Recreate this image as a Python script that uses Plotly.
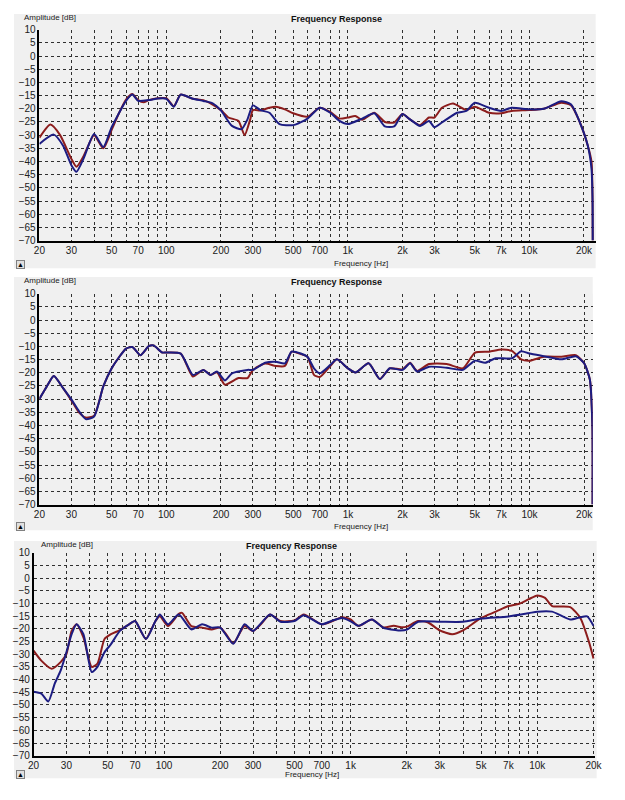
import plotly.graph_objects as go
import numpy as np

# ---- Panel 1 ----
p1_red_f = [20, 23, 26, 30, 32, 35, 40, 45, 50, 55, 60, 65, 70, 75, 80, 90, 100, 110, 120, 140, 160, 180, 200, 220, 250, 270, 290, 300, 330, 370, 400, 450, 500, 600, 700,
            800, 900, 1000, 1100, 1200, 1400, 1600, 1800, 2000, 2200, 2500, 2800, 3000, 3300, 3800, 4500, 5000, 6000, 7000, 8000, 10000, 12000, 15000, 17000, 19000, 21000, 22000, 22300, 22350]
p1_red_v = [-31, -26, -30, -39, -42, -38, -30, -35, -28, -21.5, -16.5, -14.4, -16.7, -17.5, -16.7, -16, -16, -19, -14.6, -16.2, -16.7, -18.4, -20.5, -23.3, -24.6, -30, -24, -20.5, -20.6, -19.6, -19.2, -20.2, -21.7, -23, -19.6,
            -21.2, -23.7, -23.3, -22.7, -24.2, -21.5, -25, -25.2, -22, -24, -26.2, -23.3, -23.3, -19.6, -18, -20.5, -19.2, -21.5, -21.7, -20.8, -20.5, -20, -17.7, -18.7, -25.2, -34, -40, -55, -70]
p1_blue_f = [20, 24, 27, 30, 32, 35, 40, 45, 50, 60, 65, 70, 80, 90, 100, 110, 120, 140, 160, 180, 200, 230, 260, 280, 300, 330, 370, 420, 500, 600, 700,
             800, 900, 1000, 1200, 1400, 1600, 1800, 2000, 2200, 2500, 2800, 3000, 3300, 4000, 4500, 5000, 6000, 7000, 8000, 10000, 12000, 15000, 17000, 19000, 21000, 22000, 22300, 22350]
p1_blue_v = [-33.3, -29.8, -34, -41.4, -43.9, -38.9, -29.6, -34.5, -27, -17, -14.6, -17, -16.7, -16.1, -16.2, -19.2, -14.6, -16.2, -17, -17.9, -20.6, -26.5, -27.7, -24, -18.7, -20.5, -21.5, -25.8, -26.2, -23.7, -19.6,
             -21.5, -24.6, -25.8, -23.7, -21.7, -26.7, -26.7, -22, -24, -26.5, -24.6, -27, -25.2, -21.5, -20.8, -17.7, -19.6, -20.8, -19.6, -20.2, -20, -17.1, -18.4, -25.2, -34, -42.6, -55, -70]

# ---- Panel 2 ----
p2_blue_f = [20, 22, 24, 27, 30, 33, 36, 40, 45, 50, 55, 60, 65, 72, 80, 85, 95, 100, 120, 140, 160, 175, 190, 210, 230, 280, 300, 350, 400, 450, 490, 550, 600, 650, 700,
             800, 870, 1000, 1100, 1300, 1500, 1700, 2000, 2200, 2400, 2800, 3500, 4300, 5000, 5700, 6500, 8000, 9000, 10000, 12000, 15000, 18000, 20000, 21500, 22200, 22250]
p2_blue_v = [-29.9, -25.1, -21.2, -25.8, -30.1, -34.5, -37.6, -36.6, -25.1, -18.3, -14, -10.8, -10.2, -13.3, -9.9, -9.6, -12.3, -12.3, -12.7, -20.8, -18.9, -20.8, -19.5, -22.9, -20.2, -18.9, -18.9, -16.2, -15.8, -16.4, -12, -12.7, -14, -18.3, -20.2,
             -17, -14.9, -18.3, -19.9, -16.4, -22.4, -18.3, -18.9, -16.4, -19.5, -17.7, -18.1, -18.9, -15.4, -16.2, -14.5, -14.5, -11.8, -12.7, -13.7, -14.9, -13.7, -16.4, -22.6, -40, -70]
p2_red_f = [20, 22, 24, 27, 30, 33, 36, 40, 45, 50, 55, 60, 65, 72, 80, 85, 95, 100, 120, 140, 160, 175, 190, 210, 250, 280, 300, 350, 400, 450, 490, 550, 600, 650, 700,
            800, 870, 1000, 1100, 1300, 1500, 1700, 2000, 2200, 2400, 2800, 3500, 4300, 5000, 6000, 7000, 8000, 9000, 10000, 12000, 15000, 18000, 20000, 21500, 22200, 22250]
p2_red_v = [-29.9, -25.1, -21.2, -25.8, -30.5, -35, -37, -36.3, -25.1, -18.3, -14, -10.8, -10.2, -13.3, -9.9, -9.6, -12.3, -12.3, -12.7, -21.4, -18.9, -20.8, -19.8, -24.5, -22, -22, -18.9, -16.5, -17.4, -17.4, -12, -12.9, -14, -20.8, -21.6,
            -17.4, -14.9, -18.3, -19.9, -16.4, -22.4, -18.3, -18.7, -16.2, -19.3, -16.7, -16.7, -18.3, -12.4, -12, -11.2, -11.7, -14.9, -15.4, -13.9, -13.9, -13.3, -16.4, -22.6, -40, -70]

# ---- Panel 3 ----
p3_red_f = [20, 22, 25, 28, 30, 32, 34, 37, 41, 44, 48, 52, 58, 65, 70, 75, 80, 90, 95, 105, 120, 125, 140, 160, 180, 200, 215, 235, 270, 300, 330, 370, 420, 500, 560, 700,
            800, 900, 1000, 1100, 1300, 1500, 1700, 1900, 2000, 2300, 2600, 3000, 3500, 4000, 5000, 6000, 7000, 8000, 9000, 10000, 11000, 12000, 15000, 17000, 19000, 20000]
p3_red_v = [-28.6, -32.5, -35.7, -33, -29.9, -20.8, -18.2, -23.4, -35, -33.7, -24, -22.1, -20.5, -18.2, -16.9, -20.8, -24, -16.9, -15, -18.9, -14.1, -13.7, -18.9, -19.5, -20.2, -19.5, -22.1, -25.7, -18.9, -20.8, -18.2, -14.3, -16.9, -16.7, -14.3, -18.2,
            -16.9, -15.4, -16.3, -18.8, -16.3, -19.4, -18.8, -19.4, -19.1, -16.9, -17.5, -20.6, -22.1, -20.6, -15.7, -13.2, -11, -10.1, -8.3, -6.8, -7.8, -11, -11.4, -15.7, -25.6, -31.7]
p3_blue_f = [20, 22, 24, 26, 28, 30, 32, 34, 37, 41, 44, 48, 52, 58, 65, 70, 80, 90, 95, 105, 120, 140, 160, 180, 200, 235, 270, 300, 370, 420, 500, 560, 700,
             800, 900, 1000, 1100, 1300, 1500, 1800, 2000, 2300, 3000, 4000, 5000, 7000, 9000, 10000, 12000, 15000, 17000, 18500, 20000]
p3_blue_v = [-44.8, -45.5, -48.6, -41.5, -36.3, -29.2, -22.1, -18.2, -22.1, -37, -35, -29.2, -26, -20.8, -18.2, -16.9, -24, -16.9, -14.3, -18.2, -14.3, -20.2, -18.2, -19.5, -19.5, -25.9, -18.2, -20.8, -14.3, -17.2, -16.9, -14.6, -18.2,
             -16.7, -15.7, -17, -18.8, -16.3, -19.6, -20.6, -20.3, -17.2, -17.2, -17.2, -15.9, -15.1, -13.8, -13.2, -13.2, -16.3, -15.4, -15.1, -18.8]

major = [20, 30, 50, 70, 100, 200, 300, 500, 700, 1000, 2000, 3000, 5000, 7000, 10000, 20000]
major_txt = ["20", "30", "50", "70", "100", "200", "300", "500", "700", "1k", "2k", "3k", "5k", "7k", "10k", "20k"]
y_ticks = list(range(-70, 11, 5))

RED = "#8c1c1c"
BLUE = "#1c1c82"
PANEL = "#f0f0f0"

all_ticks = sorted({m * d for d in [10, 100, 1000, 10000] for m in range(1, 10) if 20 <= m * d <= 20000})
tick_txt = [major_txt[major.index(t)] if t in major else "" for t in all_ticks]

panels = [
    dict(series=[(p1_red_f, p1_red_v, RED), (p1_blue_f, p1_blue_v, BLUE)], xd=[26/625, 595/625], yd=[1-230/800, 1-16/800],
         xr=[np.log10(20), np.log10(23200)], top=0, bot=258, right=595, tx=330, fx=355, fy=253),
    dict(series=[(p2_red_f, p2_red_v, RED), (p2_blue_f, p2_blue_v, BLUE)], xd=[26/625, 592/625], yd=[1-498/800, 1-284/800],
         xr=[np.log10(20), np.log10(22300)], top=267, bot=524, right=592, tx=330, fx=355, fy=520),
    dict(series=[(p3_red_f, p3_red_v, RED), (p3_blue_f, p3_blue_v, BLUE)], xd=[20/625, 594/625], yd=[1-753/800, 1-547/800],
         xr=[np.log10(20), np.log10(20300)], top=535, bot=776, right=596, tx=284, fx=305, fy=772),
]

fig = go.Figure()
shapes = []
annotations = []
for i, p in enumerate(panels):
    n = "" if i == 0 else str(i + 1)
    for f, v, c in p["series"]:
        fig.add_trace(go.Scatter(x=f, y=v, mode="lines", line=dict(color=c, width=2, shape="spline", smoothing=0.6),
                                 xaxis="x" + n, yaxis="y" + n, showlegend=False, hoverinfo="skip"))
    ax = dict(type="log", domain=p["xd"], range=p["xr"], tickvals=all_ticks, ticktext=tick_txt, showgrid=True,
              gridcolor="#303030", griddash="dot", gridwidth=1, showline=True, linecolor="black", linewidth=1.5,
              ticks="", tickfont=dict(size=10, color="#202020"), anchor="y" + n, zeroline=False, fixedrange=True)
    ay = dict(domain=p["yd"], range=[-70, 10], tickvals=y_ticks, showgrid=True, gridcolor="#303030", griddash="dot",
              gridwidth=1, showline=True, linecolor="black", linewidth=1.5, ticks="", tickfont=dict(size=10, color="#202020"),
              anchor="x" + n, zeroline=False, fixedrange=True)
    fig.update_layout(**{"xaxis" + n: ax, "yaxis" + n: ay})
    shapes.append(dict(type="rect", xref="paper", yref="paper", x0=0, x1=p["right"]/625, y0=1-p["bot"]/800, y1=1-p["top"]/800,
                       fillcolor=PANEL, line=dict(width=0), layer="below"))
    annotations += [
        dict(text="Amplitude [dB]", xref="paper", yref="paper", x=(26 if i == 2 else 8)/625, y=1-(p["top"]+4)/800, xanchor="left", yanchor="middle",
             showarrow=False, font=dict(size=8, color="#202020")),
        dict(text="<b>Frequency Response</b>", xref="paper", yref="paper", x=p["tx"]/625, y=1-(p["top"]+5)/800, xanchor="center", yanchor="middle",
             showarrow=False, font=dict(size=9, color="#101010")),
        dict(text="Frequency [Hz]", xref="paper", yref="paper", x=p["fx"]/625, y=1-p["fy"]/800, xanchor="center", yanchor="middle",
             showarrow=False, font=dict(size=8, color="#202020")),
        dict(text="▲", xref="paper", yref="paper", x=2/625, y=1-(p["bot"]+1)/800, xanchor="left", yanchor="bottom",
             showarrow=False, font=dict(size=7, color="black"), bgcolor="#e0e0e0", bordercolor="#808080", borderwidth=1, borderpad=0),
    ]

fig.update_layout(width=625, height=800, margin=dict(l=0, r=0, t=0, b=0), paper_bgcolor="white", plot_bgcolor=PANEL,
                  shapes=shapes, annotations=annotations, font=dict(family="Liberation Sans, Arial, sans-serif"))
fig.write_html("out.html")
